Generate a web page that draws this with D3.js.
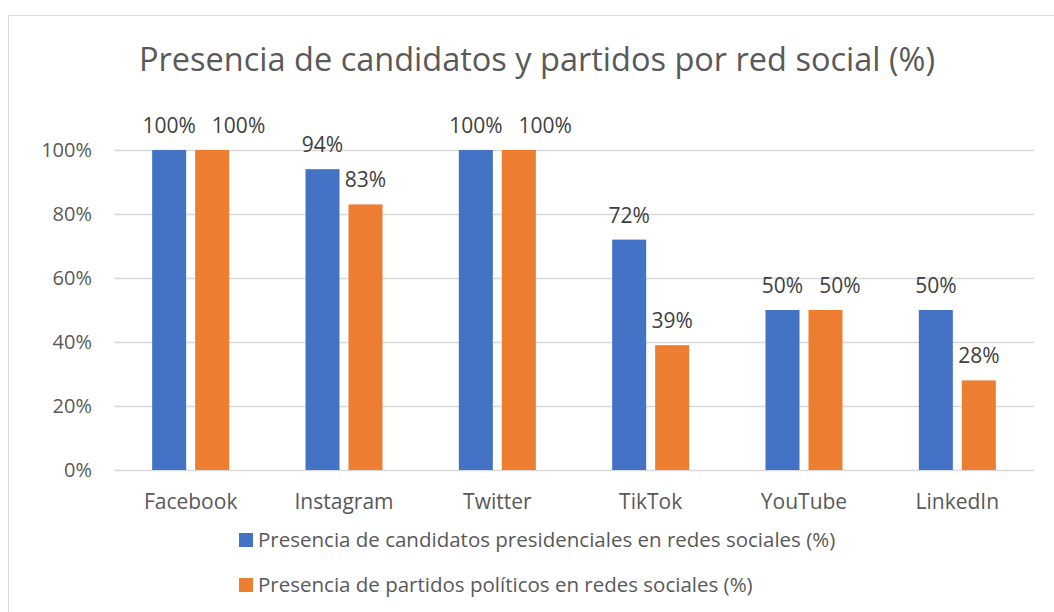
<!DOCTYPE html>
<html>
<head>
<meta charset="utf-8">
<script src="https://cdn.jsdelivr.net/npm/d3@7"></script>
<style>
  body { margin: 0; background: #fff; }
  svg text { font-family: "Open Sans", "Noto Sans", sans-serif; }
</style>
</head>
<body>
<main></main>
<script>
const categories = ["Facebook", "Instagram", "Twitter", "TikTok", "YouTube", "LinkedIn"];
const candidatos = [100, 94, 100, 72, 50, 50];
const partidos = [100, 83, 100, 39, 50, 28];
const seriesNames = [
  "Presencia de candidatos presidenciales en redes sociales (%)",
  "Presencia de partidos políticos en redes sociales (%)"
];
const seriesColors = ["#4472C4", "#ED7D31"];
const yTicks = [0, 20, 40, 60, 80, 100];

const w = 1054;
const h = 612;

// plot area
const plotLeft = 114, plotRight = 1034, plotTop = 150, plotBottom = 470;

const svg = d3
  .select("main")
  .append("svg")
  .attr("width", w)
  .attr("height", h);

// chart border
svg
  .append("rect")
  .attr("x", 8.5)
  .attr("y", 15.5)
  .attr("width", 1060)
  .attr("height", 620)
  .attr("fill", "#fff")
  .attr("stroke", "#D9D9D9")
  .attr("stroke-width", 1);

const x0 = d3.scaleBand().domain(categories).range([plotLeft, plotRight]).padding(0);
const x1 = d3.scaleBand().domain([0, 1]).range([0, 77]).paddingInner(0.209).paddingOuter(0);
const yScale = d3.scaleLinear().domain([0, 100]).range([plotBottom, plotTop]);

// gridlines
svg
  .append("g")
  .selectAll("line")
  .data(yTicks)
  .enter()
  .append("line")
  .attr("x1", plotLeft)
  .attr("x2", plotRight)
  .attr("y1", d => Math.round(yScale(d)) + 0.5)
  .attr("y2", d => Math.round(yScale(d)) + 0.5)
  .attr("stroke", "#D9D9D9")
  .attr("stroke-width", 1.5);

// y tick labels
svg
  .append("g")
  .selectAll("text")
  .data(yTicks)
  .enter()
  .append("text")
  .attr("x", 92)
  .attr("y", d => yScale(d))
  .attr("dy", "0.36em")
  .attr("text-anchor", "end")
  .attr("fill", "#595959")
  .style("font-size", "20px")
  .text(d => d + "%");

// bars
const rows = categories.map((c, i) => ({ cat: c, vals: [candidatos[i], partidos[i]] }));
const groups = svg
  .append("g")
  .selectAll("g")
  .data(rows)
  .enter()
  .append("g")
  .attr("transform", d => `translate(${x0(d.cat) + x0.bandwidth() / 2 - 38.5},0)`);

groups
  .selectAll("rect")
  .data(d => d.vals.map((v, k) => ({ v, k })))
  .enter()
  .append("rect")
  .attr("x", d => x1(d.k))
  .attr("y", d => yScale(d.v))
  .attr("width", x1.bandwidth())
  .attr("height", d => yScale(0) - yScale(d.v))
  .attr("fill", d => seriesColors[d.k]);

// data labels
groups.each(function() {
  const g = d3.select(this);
  const labels = g
    .selectAll("text")
    .data(d => d.vals.map((v, k) => ({ v, k })))
    .enter()
    .append("text")
    .attr("x", d => x1(d.k) + x1.bandwidth() / 2)
    .attr("y", d => yScale(d.v) - 17)
    .attr("text-anchor", "middle")
    .attr("fill", "#404040")
    .style("font-size", "21px")
    .text(d => d.v + "%");

  // push the second label right when both sit on the same line
  const nodes = labels.nodes();
  const a = nodes[0].getBBox();
  const b = nodes[1].getBBox();
  if (Math.abs(a.y - b.y) < a.height && b.x < a.x + a.width + 16) {
    const shift = a.x + a.width + 16 - b.x;
    d3.select(nodes[1]).attr("x", +d3.select(nodes[1]).attr("x") + shift);
  }
});

// category labels
svg
  .append("g")
  .selectAll("text")
  .data(categories)
  .enter()
  .append("text")
  .attr("x", d => x0(d) + x0.bandwidth() / 2)
  .attr("y", 509)
  .attr("text-anchor", "middle")
  .attr("fill", "#595959")
  .style("font-size", "21px")
  .text(d => d);

// legend
const legend = svg
  .append("g")
  .selectAll("g")
  .data(seriesNames)
  .enter()
  .append("g")
  .attr("transform", (d, i) => `translate(239,${547 + i * 45})`);

legend
  .append("rect")
  .attr("x", 0)
  .attr("y", -14)
  .attr("width", 14)
  .attr("height", 14)
  .attr("fill", (d, i) => seriesColors[i]);

legend
  .append("text")
  .attr("x", 19)
  .attr("y", 0)
  .attr("fill", "#595959")
  .style("font-size", "20.5px")
  .text(d => d);

// title
svg
  .append("text")
  .attr("x", 537)
  .attr("y", 71)
  .attr("text-anchor", "middle")
  .attr("fill", "#595959")
  .style("font-size", "32.5px")
  .text("Presencia de candidatos y partidos por red social (%)");
</script>
</body>
</html>
